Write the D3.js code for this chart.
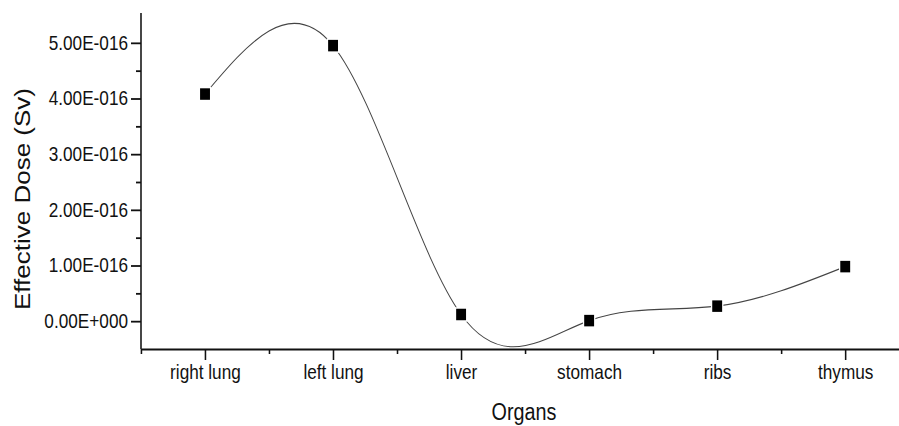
<!DOCTYPE html>
<html>
<head>
<meta charset="utf-8">
<script src="https://cdn.jsdelivr.net/npm/d3@7/dist/d3.min.js"></script>
<style>
  body { margin: 0; background: #fff; }
  svg { display: block; }
  .axis text { font-family: Arial, "Liberation Sans", sans-serif; fill: #111; }
  .axis path, .axis line { stroke: #111; stroke-width: 1.8; }
</style>
</head>
<body>
<svg id="chart"></svg>
<script>
// data
var organs = ["right lung", "left lung", "liver", "stomach", "ribs", "thymus"];
var dose = [4.08e-16, 4.95e-16, 0.12e-16, 0.01e-16, 0.27e-16, 0.98e-16];
var yTicks = [0, 1e-16, 2e-16, 3e-16, 4e-16, 5e-16];
var yMinor = [0.5e-16, 1.5e-16, 2.5e-16, 3.5e-16, 4.5e-16];

var width = 899, height = 426;
// the original picture is squeezed horizontally, so draw in a wider box and squash it
var sx = 0.86;
var W = width / sx;
function ix(px) { return px / sx; }

var svg = d3.select("#chart")
    .attr("width", width)
    .attr("height", height)
    .attr("viewBox", "0 0 " + W + " " + height)
    .attr("preserveAspectRatio", "none");

var x = d3.scaleLinear()
    .domain([-0.5, 5.42])
    .range([ix(141), ix(899)]);

var y = d3.scaleLinear()
    .domain([-0.5e-16, 5.5e-16])
    .range([349, 15]);

function sci(d) {
  if (d === 0) return "0.00E+000";
  var e = Math.floor(Math.log10(Math.abs(d)));
  var m = d / Math.pow(10, e);
  var es = String(Math.abs(e)).padStart(3, "0");
  return m.toFixed(2) + "E" + (e < 0 ? "-" : "+") + es;
}

// minor ticks first
svg.append("g")
    .attr("class", "axis")
    .attr("transform", "translate(" + ix(141) + ",0)")
    .call(d3.axisLeft(y).tickValues(yMinor).tickSize(ix(5)).tickFormat(""))
    .select(".domain").remove();

svg.append("g")
    .attr("class", "axis")
    .attr("transform", "translate(0,349)")
    .call(d3.axisBottom(x).tickValues([-0.5, 0.5, 1.5, 2.5, 3.5, 4.5]).tickSize(5).tickFormat(""))
    .select(".domain").remove();

// main y axis
var yAxis = svg.append("g")
    .attr("class", "axis")
    .attr("transform", "translate(" + ix(141) + ",0)")
    .call(d3.axisLeft(y).tickValues(yTicks).tickSize(ix(10)).tickSizeOuter(0)
      .tickPadding(ix(3)).tickFormat(sci));
yAxis.select(".domain").attr("d", "M0," + 13 + "V349");
yAxis.selectAll("text").style("font-size", "20px");

// main x axis
var xAxis = svg.append("g")
    .attr("class", "axis")
    .attr("transform", "translate(0,349)")
    .call(d3.axisBottom(x).tickValues(d3.range(organs.length)).tickSize(11).tickSizeOuter(0)
      .tickPadding(5).tickFormat(function(i) { return organs[i]; }));
xAxis.selectAll("text").style("font-size", "20px");

// axis titles
svg.append("text")
    .attr("transform", "translate(" + ix(30) + ",199) rotate(-90)")
    .attr("text-anchor", "middle")
    .style("font-family", "Arial, 'Liberation Sans', sans-serif")
    .style("font-size", "26px")
    .style("fill", "#111")
    .text("Effective Dose (Sv)");

svg.append("text")
    .attr("x", ix(524))
    .attr("y", 420)
    .attr("text-anchor", "middle")
    .style("font-family", "Arial, 'Liberation Sans', sans-serif")
    .style("font-size", "23px")
    .style("fill", "#111")
    .text("Organs");

// spline through the points
var line = d3.line()
    .x(function(d, i) { return x(i); })
    .y(function(d) { return y(d); })
    .curve(d3.curveNatural);

svg.append("path")
    .datum(dose)
    .attr("fill", "none")
    .attr("stroke", "#444")
    .attr("stroke-width", 1.1)
    .attr("d", line);

var s = 11.5;
svg.append("g")
  .selectAll("rect")
  .data(dose)
  .enter().append("rect")
    .attr("x", function(d, i) { return x(i) - s / 2; })
    .attr("y", function(d) { return y(d) - s / 2; })
    .attr("width", s)
    .attr("height", s)
    .attr("fill", "#000")
    .attr("stroke", "#fff")
    .attr("stroke-width", 3)
    .attr("paint-order", "stroke");
</script>
</body>
</html>
